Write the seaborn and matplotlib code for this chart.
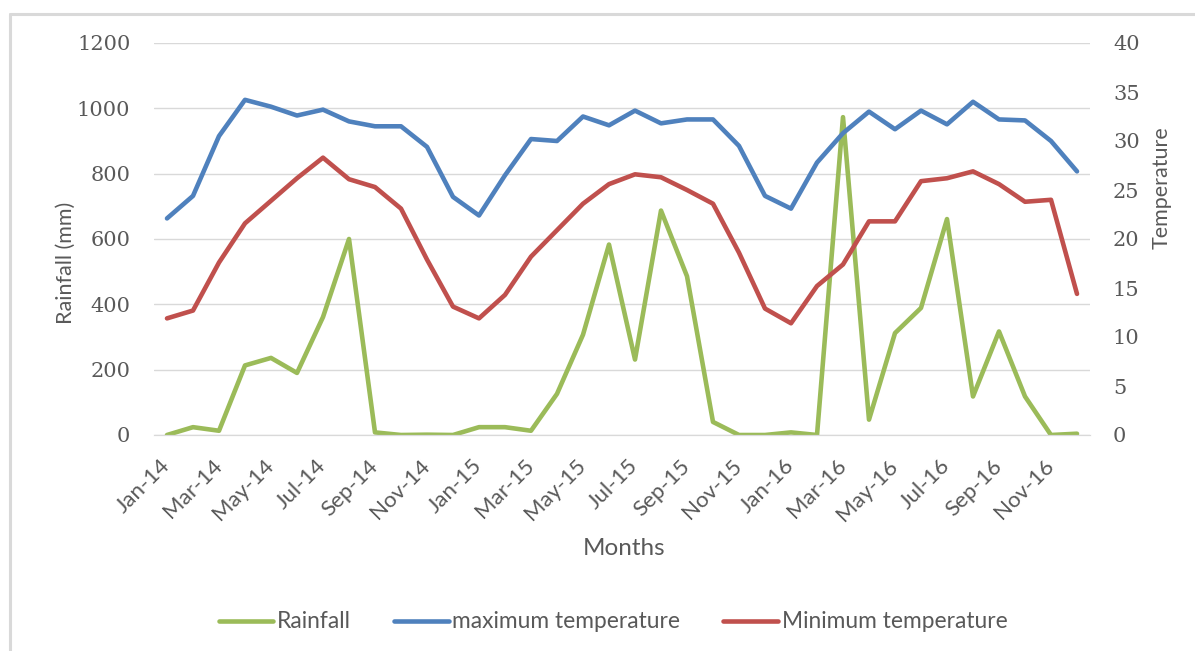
import matplotlib
matplotlib.use("Agg")
import matplotlib.pyplot as plt
from matplotlib.lines import Line2D
import numpy as np
import pandas as pd
import seaborn as sns

# monthly series, Jan-14 .. Dec-16
months = [f"{m}-{y}" for y in ("14", "15", "16")
          for m in ("Jan", "Feb", "Mar", "Apr", "May", "Jun",
                    "Jul", "Aug", "Sep", "Oct", "Nov", "Dec")]

rainfall = [0, 24, 13, 213, 236, 190, 361, 600, 8, 0, 1, 0,
            24, 24, 13, 126, 307, 583, 231, 687, 486, 40, 0, 0,
            8, 0, 973, 47, 312, 389, 661, 118, 317, 118, 0, 4]

max_temp = [22.1, 24.4, 30.5, 34.2, 33.5, 32.6, 33.2, 32.0, 31.5, 31.5, 29.4, 24.3,
            22.4, 26.5, 30.2, 30.0, 32.5, 31.6, 33.1, 31.8, 32.2, 32.2, 29.5, 24.4,
            23.1, 27.8, 30.8, 33.0, 31.2, 33.1, 31.7, 34.0, 32.2, 32.1, 30.0, 26.9]

min_temp = [11.9, 12.7, 17.6, 21.6, 23.9, 26.2, 28.3, 26.1, 25.3, 23.1, 17.9, 13.1,
            11.9, 14.3, 18.2, 20.9, 23.6, 25.6, 26.6, 26.3, 25.0, 23.6, 18.6, 12.9,
            11.4, 15.2, 17.4, 21.8, 21.8, 25.9, 26.2, 26.9, 25.6, 23.8, 24.0, 14.4]

df = pd.DataFrame({"idx": np.arange(len(months)), "month": months,
                   "rain": rainfall, "tmax": max_temp, "tmin": min_temp})

GREEN, BLUE, RED = "#9BBB59", "#4F81BD", "#C0504D"
TXT = "#595959"
GRID = "#D9D9D9"

sns.set_style("white")
plt.rcParams["font.family"] = ["Lato", "DejaVu Sans"]

fig = plt.figure(figsize=(11.95, 6.51), dpi=100)
ax = fig.add_axes([154 / 1195, 1 - 435 / 651, (1090 - 154) / 1195, (435 - 43) / 651])
ax2 = ax.twinx()

sns.lineplot(data=df, x="idx", y="rain", ax=ax, color=GREEN, linewidth=3.3)
sns.lineplot(data=df, x="idx", y="tmax", ax=ax2, color=BLUE, linewidth=3.3)
sns.lineplot(data=df, x="idx", y="tmin", ax=ax2, color=RED, linewidth=3.3)

ax.set_xlim(-0.5, len(months) - 0.5)
ax.set_ylim(0, 1200)
ax2.set_ylim(0, 40)
ax.set_yticks(range(0, 1201, 200))
ax2.set_yticks(range(0, 41, 5))

ax.yaxis.grid(True, color=GRID, linewidth=1)
ax.set_axisbelow(True)
for a in (ax, ax2):
    for s in ("top", "left", "right"):
        a.spines[s].set_visible(False)
    a.spines["bottom"].set_color(GRID)
    a.tick_params(axis="y", length=0, colors=TXT)

tick_font = dict(family=["DejaVu Serif"], size=15, color=TXT)
for lab in ax.get_yticklabels() + ax2.get_yticklabels():
    lab.set(**tick_font)
ax.tick_params(axis="y", pad=17)
ax2.tick_params(axis="y", pad=16.5)

# labels on every other month, tick marks between category groups
ax.set_xticks(df["idx"][::2])
ax.set_xticklabels(df["month"][::2], rotation=45, ha="right", va="center",
                   rotation_mode="anchor", fontsize=16, color=TXT)
ax.set_xticks(np.arange(-0.5, len(months), 2), minor=True)
ax.tick_params(axis="x", which="major", length=0, pad=20)
ax.tick_params(axis="x", which="minor", length=7, color=GRID, width=1)

ax.set_xlabel("Months", fontsize=17.5, color=TXT)
ax.xaxis.set_label_coords(0.502, -0.262)
ax.set_ylabel("Rainfall (mm)", fontsize=15.5, color=TXT)
ax.yaxis.set_label_coords(-0.083, 0.44)
ax2.set_ylabel("Temperature", fontsize=15.5, color=TXT)
ax2.yaxis.set_label_coords(1.066, 0.63)

handles = [Line2D([], [], color=GREEN, linewidth=3.3),
           Line2D([], [], color=BLUE, linewidth=3.3),
           Line2D([], [], color=RED, linewidth=3.3)]
leg = fig.legend(handles, ["Rainfall", "maximum temperature", "Minimum temperature"],
                 loc="center", bbox_to_anchor=(613 / 1195, 1 - 622 / 651), ncol=3,
                 frameon=False, fontsize=16.4, handlelength=2.4, handletextpad=0.15,
                 columnspacing=1.9)
for t in leg.get_texts():
    t.set_color(TXT)

# chart-area border like the original
fig.add_artist(Line2D([9.5 / 1195, 9.5 / 1195], [0, 1 - 14 / 651], color=GRID,
                      linewidth=2.2, transform=fig.transFigure))
fig.add_artist(Line2D([9.5 / 1195, 1], [1 - 14 / 651, 1 - 14 / 651], color=GRID,
                      linewidth=2.2, transform=fig.transFigure))

fig.savefig("out.png", dpi=100)
